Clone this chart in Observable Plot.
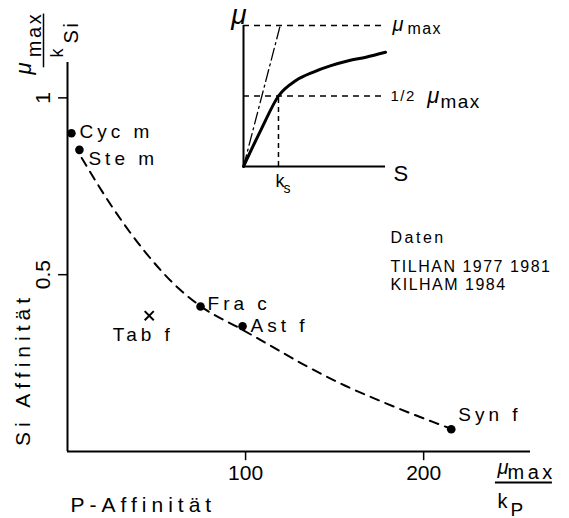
<!DOCTYPE html>
<html><head><meta charset="utf-8">
<script src="https://cdn.jsdelivr.net/npm/d3@7"></script>
<script src="https://cdn.jsdelivr.net/npm/@observablehq/plot@0.6"></script>
<style>
body{margin:0;background:#fff;}
#wrap{position:relative;width:569px;height:518px;overflow:hidden;}
#wrap svg{position:absolute;}
g[aria-description="ls1"] text{letter-spacing:1.5px;}
g[aria-description="ls2"] text{letter-spacing:2.5px;}
g[aria-description="ls3"] text{letter-spacing:3.5px;}
g[aria-description="ls4"] text{letter-spacing:4px;}
g[aria-description="ls5"] text{letter-spacing:5px;}
</style></head><body><div id="wrap"></div>
<script>
// ---- main chart data ----
const species    = ["Cyc m", "Ste m", "Fra c", "Ast f", "Syn f"];
const pAffinity  = [2.2, 6.7, 74.7, 98.3, 215.5];
const siAffinity = [0.90, 0.853, 0.41, 0.354, 0.063];
const outlierName = ["Tab f"];
const outlierP    = [45.9];
const outlierSi   = [0.384];
const curveP  = [8, 24, 43, 62, 75, 98, 112, 134, 156, 178.5, 205.5, 214];
const curveSi = [0.83, 0.70, 0.568, 0.463, 0.41, 0.345, 0.305, 0.242, 0.186, 0.137, 0.083, 0.067];
const xTicks = [100, 200];
const yTicks = [0.5, 1];
const yTickLabels = ["0.5", "1"];
const sourceLines = ["Daten", "TILHAN 1977 1981", "KILHAM 1984"];
// ---- inset (Monod sketch) data ----
const insetS  = [0, 0.5, 1, 1.5, 2, 2.5, 3, 3.5, 4.06];
const insetMu = [0, 0.26, 0.5, 0.61, 0.67, 0.715, 0.75, 0.775, 0.81];
const tangentS  = [0, 1.05];
const tangentMu = [0, 1];
const ksValue = 1;

const FONT = "'Liberation Sans', Arial, Helvetica, sans-serif";
const points   = species.map((name, i) => ({name, p: pAffinity[i], si: siAffinity[i]}));
const outliers = outlierName.map((name, i) => ({name, p: outlierP[i], si: outlierSi[i]}));
const curve    = curveP.map((p, i) => ({p, si: curveSi[i]}));
const monod    = insetS.map((s, i) => ({s, mu: insetMu[i]}));
const tangent  = tangentS.map((s, i) => ({s, mu: tangentMu[i]}));

const txt = (str, o) => Plot.text([str], {text: d => d, ...o});
const lab = (arr, name, dx, dy, anchor = "start") =>
  Plot.text(arr.filter(d => d.name === name), {x: "p", y: "si", text: "name", dx, dy, textAnchor: anchor, fontSize: 19, ariaDescription: "ls4"});

const main = Plot.plot({
  width: 569, height: 518,
  marginLeft: 67, marginRight: 39, marginTop: 62, marginBottom: 67,
  x: {domain: [0, 260], axis: null},
  y: {domain: [0, 1.1], axis: null},
  style: {fontFamily: FONT, background: "transparent", color: "black"},
  marks: [
    Plot.ruleX([0], {stroke: "black", strokeWidth: 2}),
    Plot.ruleY([0], {stroke: "black", strokeWidth: 2}),
    Plot.ruleX(xTicks, {x: d => d, y1: 0, y2: -0.026, strokeWidth: 1.5}),
    Plot.ruleY(yTicks, {y: d => d, x1: -5, x2: 0, strokeWidth: 1.5}),
    Plot.text(xTicks, {x: d => d, y: 0, dy: 22, text: d => String(d), fontSize: 21}),
    Plot.text(yTickLabels, {x: 0, y: (d, i) => yTicks[i], dx: -24, rotate: -90, text: d => d, fontSize: 21}),
    Plot.line(curve, {x: "p", y: "si", curve: "monotone-x", strokeDasharray: "9,7", strokeWidth: 2}),
    Plot.dot(points, {x: "p", y: "si", r: 4.3, fill: "black"}),
    Plot.dot(outliers, {x: "p", y: "si", symbol: "times", r: 4.2, stroke: "black", strokeWidth: 2}),
    lab(points, "Cyc m", 8, -1),
    lab(points, "Ste m", 9, 9),
    lab(points, "Fra c", 7, -3),
    lab(points, "Ast f", 8, 0),
    lab(points, "Syn f", 7, -14),
    lab(outliers, "Tab f", -6, 19, "middle"),
    // source note
    txt(sourceLines[0], {x: 181.4, y: 0.603, textAnchor: "start", fontSize: 16, ariaDescription: "ls2"}),
    txt(sourceLines[1], {x: 181.4, y: 0.523, textAnchor: "start", fontSize: 16, ariaDescription: "ls1"}),
    txt(sourceLines[2], {x: 181.4, y: 0.470, textAnchor: "start", fontSize: 16, ariaDescription: "ls1"}),
    // axis titles
    txt("P-Affinität", {x: 0, y: 0, dx: 3, dy: 54, textAnchor: "start", fontSize: 21, ariaDescription: "ls5"}),
    txt("Si Affinität", {frameAnchor: "top-left", dx: -52, dy: 307, rotate: -90, textAnchor: "middle", fontSize: 21, ariaDescription: "ls5"}),
    // y fraction  μmax / kSi (rotated)
    txt("μ",   {frameAnchor: "top-left", dx: -37, dy: 6, rotate: -90, textAnchor: "middle", lineAnchor: "bottom", fontSize: 22, fontStyle: "italic"}),
    txt("max", {frameAnchor: "top-left", dx: -27, dy: -28, rotate: -90, textAnchor: "middle", lineAnchor: "bottom", fontSize: 20, ariaDescription: "ls2"}),
    Plot.ruleX([0], {y1: 1.085, y2: 1.237, dx: -24, strokeWidth: 1.5}),
    txt("k",   {frameAnchor: "top-left", dx: -5, dy: -9.5, rotate: -90, textAnchor: "middle", lineAnchor: "bottom", fontSize: 18}),
    txt("Si",  {frameAnchor: "top-left", dx: 10, dy: -30.5, rotate: -90, textAnchor: "middle", lineAnchor: "bottom", fontSize: 20, ariaDescription: "ls2"}),
    // x fraction  μmax / kP
    txt("μ",   {x: 241.4, y: 0, dy: 22.4, textAnchor: "start", lineAnchor: "bottom", fontSize: 20, fontStyle: "italic"}),
    txt("max", {x: 247.1, y: 0, dy: 27, textAnchor: "start", lineAnchor: "bottom", fontSize: 20, ariaDescription: "ls3"}),
    Plot.ruleY([0], {x1: 240.3, x2: 272.3, dy: 31, strokeWidth: 2}),
    txt("k",   {x: 241.4, y: 0, dy: 56, textAnchor: "start", lineAnchor: "bottom", fontSize: 20}),
    txt("P",   {x: 248.7, y: 0, dy: 64, textAnchor: "start", lineAnchor: "bottom", fontSize: 19})
  ]
});

const inset = Plot.plot({
  width: 290, height: 200,
  marginLeft: 43, marginRight: 105, marginTop: 25, marginBottom: 34,
  x: {domain: [0, 4.06], axis: null},
  y: {domain: [0, 1], axis: null},
  style: {fontFamily: FONT, background: "transparent", color: "black"},
  marks: [
    Plot.ruleY([1], {strokeDasharray: "6,5", strokeWidth: 1.5}),
    Plot.ruleY([0.5], {strokeDasharray: "6,5", strokeWidth: 1.5}),
    Plot.ruleX([ksValue], {y1: 0, y2: 0.5, strokeDasharray: "5,4", strokeWidth: 1.5}),
    Plot.line(tangent, {x: "s", y: "mu", strokeDasharray: "12,4,2,4", strokeWidth: 1.3}),
    Plot.ruleX([0], {strokeWidth: 2}),
    Plot.ruleY([0], {strokeWidth: 2}),
    Plot.line(monod, {x: "s", y: "mu", curve: "monotone-x", strokeWidth: 3}),
    txt("μ",   {frameAnchor: "top-left", dx: -4.5, dy: -2, textAnchor: "middle", lineAnchor: "bottom", fontSize: 28, fontStyle: "italic"}),
    txt("μ",   {x: 4.257, y: 1, dy: 5.4, textAnchor: "start", lineAnchor: "bottom", fontSize: 20, fontStyle: "italic"}),
    txt("max", {x: 4.686, y: 1, dy: 8, textAnchor: "start", lineAnchor: "bottom", fontSize: 16, ariaDescription: "ls1"}),
    txt("1/2", {x: 4.2, y: 0.5, dy: 4.5, textAnchor: "start", lineAnchor: "bottom", fontSize: 15, ariaDescription: "ls1"}),
    txt("μ",   {x: 5.257, y: 0.5, dy: 6.5, textAnchor: "start", lineAnchor: "bottom", fontSize: 22, fontStyle: "italic"}),
    txt("max", {x: 5.629, y: 0.5, dy: 11.5, textAnchor: "start", lineAnchor: "bottom", fontSize: 19, ariaDescription: "ls1"}),
    txt("S",   {x: 4.286, y: 0, dy: 14, textAnchor: "start", lineAnchor: "bottom", fontSize: 22}),
    txt("k",   {x: 0.914, y: 0, dy: 20, textAnchor: "start", lineAnchor: "bottom", fontSize: 18}),
    txt("s",   {x: 1.143, y: 0, dy: 26, textAnchor: "start", lineAnchor: "bottom", fontSize: 14})
  ]
});

const wrap = document.getElementById("wrap");
main.style.left = "0px"; main.style.top = "0px";
inset.style.left = "200px"; inset.style.top = "0px";
wrap.appendChild(main);
wrap.appendChild(inset);
</script>
</body></html>
